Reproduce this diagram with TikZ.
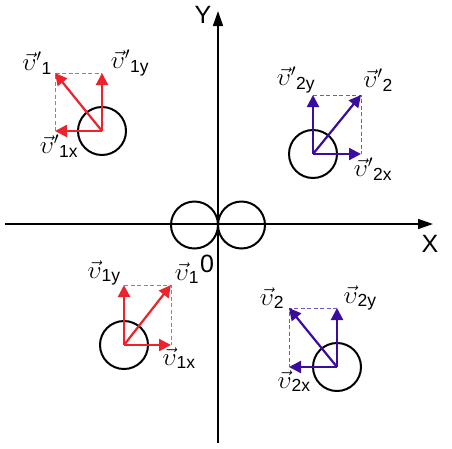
\documentclass[tikz,border=0pt]{standalone}
\usepackage{fontspec}
\setsansfont{Liberation Sans}
\usetikzlibrary{arrows.meta}
\definecolor{vred}{RGB}{236,34,44}
\definecolor{vpurple}{RGB}{58,12,160}
\definecolor{dred}{RGB}{232,95,100}
\definecolor{dpurple}{RGB}{110,90,195}
\newcommand{\vlab}[2]{$\vec{\upsilon}#1{}_{\mathsf{#2}}$}

\begin{document}
\begin{tikzpicture}[x=1pt,y=-1pt,
  axis/.style={line width=1.5pt,-{Triangle[length=15pt,width=10pt]}},
  ball/.style={line width=2pt},
  vec/.style={line width=2.2pt,-{Triangle[length=12pt,width=12pt]}},
  guide/.style={dashed,line width=0.8pt,dash pattern=on 4pt off 2.5pt},
  lbl/.style={font=\fontsize{25}{28}\selectfont,inner sep=0pt},
  axlbl/.style={font=\sffamily\fontsize{25}{28}\selectfont,inner sep=0pt}]
\useasboundingbox (0,0) rectangle (452,448);

% axes
\coordinate (xs) at (5,224);
\coordinate (xe) at (433,224);
\coordinate (ys) at (218,443);
\coordinate (ye) at (218,11);
\draw[axis] (xs) -- (xe);
\draw[axis] (ys) -- (ye);
\node[axlbl] (xlab) at (430,244) {X};
\node[axlbl] (ylab) at (203,15) {Y};
\node[axlbl] (olab) at (207,264) {0};

% colliding balls at the origin
\draw[ball] (194.5,225) circle (23.5);
\draw[ball] (241.5,225) circle (23.5);

% ball 1 before (bottom left)
\coordinate (o1) at (124,345);
\coordinate (t1) at (171,285);
\coordinate (t1x) at (171,345);
\coordinate (t1y) at (124,285);
\draw[ball] (o1) circle (24);
\draw[guide,dred] (t1y) -- (t1) -- (t1x);
\draw[vec,vred] (o1) -- (t1);
\draw[vec,vred] (o1) -- (t1x);
\draw[vec,vred] (o1) -- (t1y);
\node[lbl] (l1) at (187,273) {\vlab{}{1}};
\node[lbl] (l1x) at (179,358) {\vlab{}{1x}};
\node[lbl] (l1y) at (104,273) {\vlab{}{1y}};

% ball 2 before (bottom right)
\coordinate (o2) at (337,367);
\coordinate (t2) at (289,308);
\coordinate (t2x) at (289,367);
\coordinate (t2y) at (337,308);
\draw[ball] (o2) circle (24);
\draw[guide,dpurple] (t2y) -- (t2) -- (t2x);
\draw[vec,vpurple] (o2) -- (t2);
\draw[vec,vpurple] (o2) -- (t2x);
\draw[vec,vpurple] (o2) -- (t2y);
\node[lbl] (l2) at (272,298) {\vlab{}{2}};
\node[lbl] (l2x) at (294,381) {\vlab{}{2x}};
\node[lbl] (l2y) at (360,298) {\vlab{}{2y}};

% ball 1 after (top left)
\coordinate (p1) at (102,131);
\coordinate (s1) at (55,73);
\coordinate (s1x) at (55,131);
\coordinate (s1y) at (102,73);
\draw[ball] (p1) circle (24);
\draw[guide,dred] (s1x) -- (s1) -- (s1y);
\draw[vec,vred] (p1) -- (s1);
\draw[vec,vred] (p1) -- (s1x);
\draw[vec,vred] (p1) -- (s1y);
\node[lbl] (m1) at (37,63) {\vlab{'}{1}};
\node[lbl] (m1x) at (59,146) {\vlab{'}{1x}};
\node[lbl] (m1y) at (130,63) {\vlab{'}{1y}};

% ball 2 after (top right)
\coordinate (p2) at (313,154);
\coordinate (s2) at (361,95);
\coordinate (s2x) at (361,154);
\coordinate (s2y) at (313,95);
\draw[ball] (p2) circle (24);
\draw[guide,dpurple] (s2y) -- (s2) -- (s2x);
\draw[vec,vpurple] (p2) -- (s2);
\draw[vec,vpurple] (p2) -- (s2x);
\draw[vec,vpurple] (p2) -- (s2y);
\node[lbl] (m2) at (378,80) {\vlab{'}{2}};
\node[lbl] (m2x) at (373,169) {\vlab{'}{2x}};
\node[lbl] (m2y) at (296,80) {\vlab{'}{2y}};
\end{tikzpicture}
\end{document}
